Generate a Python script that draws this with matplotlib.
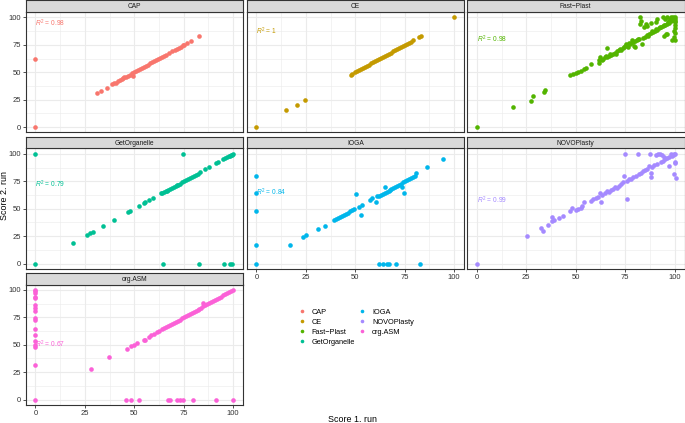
import matplotlib
matplotlib.use("Agg")
import matplotlib.pyplot as plt
from matplotlib.lines import Line2D

plt.rcParams['font.family'] = ['Liberation Sans', 'DejaVu Sans']
plt.rcParams['mathtext.fontset'] = 'custom'
plt.rcParams['mathtext.it'] = 'Liberation Sans:italic'
plt.rcParams['mathtext.rm'] = 'Liberation Sans'

# data (score of run 1 vs run 2)
tools = ["CAP", "CE", "Fast\u2212Plast", "GetOrganelle", "IOGA", "NOVOPlasty", "org.ASM"]
colors = ["#F8766D", "#C49A00", "#53B400", "#00C094", "#00B6EB", "#A58AFF", "#FB61D7"]
r2_labels = ["0.98", "1", "0.98", "0.79", "0.84", "0.99", "0.67"]
r2_y = [95, 87.5, 80, 72.5, 65, 57.5, 50]

cap_x = [0, 0, 31, 33.3, 36.2, 39, 40, 41, 42, 43, 44, 44.5, 45, 46, 47, 48, 49, 49.5, 50, 51, 52, 53, 54, 55,
         56, 57, 58, 59, 60, 61, 62, 63, 64, 65, 66, 67.5, 69, 70.5, 71.5, 72.5, 73.5, 74.5, 75, 76.5, 78.8, 83]
cap_y = [0, 62.5, 30.9, 33.3, 36, 39, 40, 40.5, 42, 43, 43.5, 44.5, 45.5, 45.5, 47, 47.5, 49, 47, 50, 51, 52, 53, 53.5, 55,
         56, 57, 58, 59, 60, 61, 62, 63, 64, 65, 66, 67.5, 69, 70.5, 71.5, 72.5, 73.5, 74.5, 75, 77, 78.5, 83]

ce_x = [0, 15.2, 20.3, 24.8, 47.6, 48.5, 50, 51, 52, 53, 54, 55, 56, 57, 58, 59, 60, 61, 62, 63, 64, 65, 66, 67,
        68, 69, 70, 71, 72, 73, 74, 75, 76, 77, 78, 79, 82, 83, 100]
ce_y = [0, 15.2, 20.3, 24.8, 47.6, 48.5, 50, 51, 52, 53, 54, 55, 56, 57, 58, 59, 60, 61, 62, 63, 64, 65, 66, 67,
        68, 69, 70, 71, 72, 73, 74, 75, 76, 77, 78, 79, 82, 83, 100]

fp_x = [0, 18.1, 27.4, 28.6, 33.7, 34.5, 47.2, 48.5, 50, 51, 52.5, 54, 55, 57.7, 61.9, 62.4, 62, 63.5, 64, 65, 65.5,
        65.8, 66, 67, 67.5, 68, 69, 70, 70.5, 71, 72, 72.5, 73, 74, 74.5, 75, 75.5, 76, 76.5, 77, 77.5, 78, 78.5, 79,
        79.5, 80, 80.2, 81, 81.5, 82, 82.4, 82.7, 83, 83.6, 84, 84.4, 85, 85.3, 86, 86.5, 87, 88, 88.5, 89, 90, 90.4,
        90.5, 91, 92, 92.5, 93, 94, 94.5, 94.6, 95, 95.8, 96, 96.3, 96.5, 97, 97, 97.5, 98, 98, 98.5, 98.8, 99, 99,
        99.5, 100, 100, 100, 100, 100, 100, 99.5, 100, 99.7, 100, 94, 95, 96, 91, 88, 86]
fp_y = [0, 17.9, 23.4, 28.2, 31.8, 34.2, 47.3, 48, 49.5, 50.5, 51.5, 53, 53.6, 57.9, 58.5, 63.9, 61, 61.5, 62.5, 63.5, 65,
        72, 64, 65, 66.5, 66, 67, 68, 67, 69, 70, 71.5, 70.5, 72, 73.5, 74, 76, 75, 73, 76.5, 75.5, 77, 79, 77.5,
        74, 78.5, 73, 79, 80.5, 80, 100, 94.3, 97, 76, 81.5, 91.2, 82.5, 94.3, 84, 83, 85, 86, 87.5, 87, 88, 95.7,
        89.5, 88.5, 90, 91.5, 91, 92, 93.5, 82.7, 93, 85, 94.5, 85.2, 96, 95, 97, 98.5, 96.5, 100, 99, 79, 97.5, 100,
        98.5, 100, 99, 97, 95.5, 93, 90, 88, 86, 82, 79, 100, 99, 100, 99, 95, 92]

go_x = [0, 0, 74.6, 64.5, 82.8, 95.5, 98.5, 99.3, 19, 26.1, 27.7, 29, 34.2, 39.6, 46.8, 48, 52.2, 54.7, 55.5, 57.7,
        59.4, 63.6, 64, 65, 66, 66.5, 67, 68, 69, 70, 71, 71.5, 72, 73, 74, 75, 76, 77, 78, 79, 80, 81, 82, 83.5,
        86, 88, 91.5, 92.5, 95, 96, 97, 98, 98.5, 99, 99.5, 100]
go_y = [0, 100, 100, 0, 0, 0, 0, 0, 19, 26, 28, 29, 34.2, 39.4, 47, 48, 52.2, 55, 56, 58,
        60, 64, 64.5, 65, 66, 66.5, 67, 68, 69, 70, 71, 71.5, 72, 73, 74, 75, 76, 77, 78, 79, 80, 81, 82, 83.5,
        86, 88, 91.5, 92.5, 95, 96, 97, 98, 98.5, 99, 99.5, 100]

ioga_x = [0, 0, 0, 0, 0, 61.8, 63.8, 66.3, 67.3, 70.5, 82.5, 16.9, 23.6, 25.3, 31.2, 34.5, 39.5, 40.5, 41.5, 42.5,
          43.5, 44.5, 45.5, 46.5, 47.5, 48.5, 49.5, 50.4, 52, 52.9, 53.4, 57.6, 58.7, 60.5, 61, 62, 63, 64, 65, 65,
          66, 67, 67.5, 68, 69, 70, 71, 72, 73, 73.6, 74, 74.7, 75, 76, 77, 78, 79, 80, 80.9, 86.4, 94.5]
ioga_y = [80, 64.5, 48.3, 17.1, 0, 0, 0, 0, 0, 0, 0, 17, 23.9, 25.7, 31.2, 34.2, 40, 40.5, 41.5, 42.5,
          43.5, 44.5, 45.5, 46.5, 47.5, 48.5, 49.5, 63.9, 52, 44.7, 53.8, 57.8, 59.4, 56.6, 61.5, 62, 62.5, 63.5, 70, 64.5,
          65.5, 66.5, 67.5, 68, 69, 70, 71, 71.5, 72.5, 70, 74, 64.5, 75, 76, 77, 78, 79, 80, 82.3, 87.8, 95.4]

novo_x = [0, 25.2, 32.5, 33.2, 35.9, 38, 38, 39, 41.7, 43.4, 47, 48.2, 49.9, 51, 52.5, 53.3, 54.2, 57.6, 58.5, 60.1,
          61, 62.2, 62.7, 63.5, 65, 66, 67, 68, 69, 70, 71.1, 72, 73, 74, 74.2, 74.8, 75.7, 76, 77, 78, 79, 80.4,
          81.4, 82, 83, 84, 85, 86, 87.2, 88, 88, 87.8, 88.5, 89.5, 90.4, 91, 91.5, 92.4, 93, 93.5, 94, 94.5, 95,
          96, 97, 97, 98, 98.5, 99, 99.5, 100, 100, 99.7, 100.5, 100]
novo_y = [0, 25, 32.4, 30, 35, 38.5, 42.5, 40, 41.8, 43, 48, 50.5, 48.6, 49.5, 51, 52.2, 55.8, 57.4, 58.5, 59.8,
          61, 64.5, 56, 62.5, 64, 66, 65.5, 67, 68, 70, 68.8, 71, 72.5, 74, 79.8, 100.3, 59.3, 75.5, 77, 77.5, 79, 80.3,
          100, 82, 83, 84.5, 85, 86, 89.4, 78.7, 82.3, 100, 88, 90, 98.8, 91, 100, 100, 93, 99, 94, 97, 95.5,
          96, 88.6, 97.5, 100, 98, 99.5, 100, 100, 92, 81.3, 78.5, 93]

asm_x = [0, 0, 0, 0, 0, 0, 0, 0, 0, 0, 0, 0, 0, 0, 0, 0, 0,
         45.8, 48.3, 52.2, 67.3, 68.2, 71.5, 72.9, 74.9, 79.6, 91.4, 99.7,
         28.1, 37.4, 46.3, 48.5, 49.7, 51.3, 54.7, 55.6, 57.5, 58.5, 60, 61.5, 62.5, 64, 65, 66, 67, 68, 69, 70, 71,
         72, 73, 74, 75, 76, 77, 78, 79, 80, 81, 82, 83, 84, 85, 85, 86, 87, 88, 89, 90, 91, 92, 93, 94, 95, 96, 97,
         98, 99, 100]
asm_y = [100, 99, 97, 93.9, 92.4, 86.2, 83.2, 80.7, 74.6, 72.5, 64, 59.3, 53.2, 49.5, 48, 31.8, 0,
         0, 0, 0, 0, 0, 0, 0, 0, 0, 0, 0,
         27.5, 38.8, 46.1, 49.2, 49.8, 51.4, 54.1, 54.7, 57.5, 58.5, 60, 61.5, 62.5, 64, 65, 66, 67, 68, 69, 70, 71,
         72, 73, 74, 75, 76, 77, 78, 79, 80, 81, 82, 83, 84, 85, 88.3, 86.5, 87, 88, 89, 90, 91, 92, 93, 94, 95, 96, 97,
         98, 99, 100]

xs = [cap_x, ce_x, fp_x, go_x, ioga_x, novo_x, asm_x]
ys = [cap_y, ce_y, fp_y, go_y, ioga_y, novo_y, asm_y]

W, H = 685, 423
fig = plt.figure(figsize=(W / 100, H / 100), dpi=100)

col_left = [25.5, 246.5, 467]
panel_w = 217.5
row_top = [12, 148.5, 284.5]
panel_h = 120.5
strip_h = 11.5

ticks = [0, 25, 50, 75, 100]
minor = [12.5, 37.5, 62.5, 87.5]

for i, tool in enumerate(tools):
    r, c = divmod(i, 3)
    left = col_left[c]
    top = row_top[r]
    ax = fig.add_axes([left / W, (H - top - panel_h) / H, panel_w / W, panel_h / H])
    ax.set_xlim(-5, 105)
    ax.set_ylim(-5, 105)
    ax.set_xticks(ticks)
    ax.set_yticks(ticks)
    ax.set_xticks(minor, minor=True)
    ax.set_yticks(minor, minor=True)
    ax.grid(True, which='major', color='#EBEBEB', lw=0.8, zorder=0)
    ax.grid(True, which='minor', color='#EBEBEB', lw=0.4, zorder=0)
    ax.set_axisbelow(True)
    for sp in ax.spines.values():
        sp.set_color('#333333')
        sp.set_linewidth(0.8)
    ax.tick_params(which='minor', length=0)
    ax.tick_params(which='major', length=2, width=0.6, color='#333333', labelsize=5.5,
                   labelcolor='#333333', pad=1.5)

    show_x = (i + 3) >= len(tools)
    show_y = c == 0
    if not show_x:
        ax.tick_params(axis='x', length=0, labelbottom=False)
    if not show_y:
        ax.tick_params(axis='y', length=0, labelleft=False)

    ax.scatter(xs[i], ys[i], s=11, color=colors[i], linewidths=0, zorder=3, clip_on=False)
    ax.text(0, r2_y[i], r"$R^2$ = " + r2_labels[i], color=colors[i], fontsize=4.8,
            ha='left', va='center', zorder=4)

    # facet strip
    sax = fig.add_axes([left / W, (H - top) / H, panel_w / W, strip_h / H])
    sax.set_xticks([])
    sax.set_yticks([])
    sax.set_facecolor('#D9D9D9')
    for sp in sax.spines.values():
        sp.set_color('#333333')
        sp.set_linewidth(0.8)
    sax.text(0.5, 0.45, tool, ha='center', va='center', fontsize=4.8, color='#1A1A1A',
             transform=sax.transAxes)

fig.text(353 / W, 1 - 419 / H, "Score 1. run", ha='center', va='center', fontsize=6.4)
fig.text(5 / W, 1 - 195 / H, "Score 2. run", ha='center', va='center', fontsize=6.4, rotation=90)

handles = [Line2D([], [], marker='o', ls='', color=col, markersize=2.6, markeredgewidth=0)
           for col in colors]
fig.legend(handles, tools, ncol=2, loc='upper left', bbox_to_anchor=(298.7 / W, 1 - 308.5 / H),
           frameon=False, fontsize=5.3, handlelength=0.8, handletextpad=0.96, labelspacing=0.4,
           columnspacing=0.56, borderpad=0, borderaxespad=0)

fig.savefig("out.png", dpi=100)
